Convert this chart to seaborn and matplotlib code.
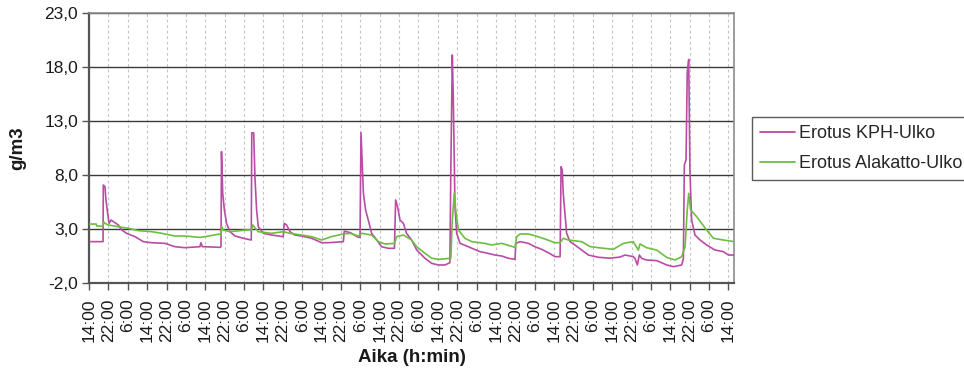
import matplotlib
matplotlib.use("Agg")
import matplotlib.pyplot as plt
import pandas as pd
import seaborn as sns
from matplotlib.lines import Line2D

# Measurement series: hours since the first 14:00 reading, and humidity difference (g/m3)
kph_hours = [
    0.0, 5.8, 5.9, 6.6, 7.0, 7.7, 8.3, 9.1, 10.7, 12.1, 13.5, 15.5, 19.0, 22.4,
    25.9, 31.4, 35.5, 39.6, 45.8, 46.2, 46.8, 47.9, 54.1, 54.5, 54.7, 55.2, 55.9,
    56.8, 58.2, 60.3, 63.7, 67.0, 67.2, 68.0, 68.5, 69.2, 69.9, 72.0, 75.4, 80.2,
    80.6, 81.6, 83.0, 85.0, 87.8, 91.9, 96.1, 98.8, 105.0, 105.4, 108.0, 111.2,
    111.9, 112.3, 112.9, 113.3, 114.2, 115.3, 116.7, 118.8, 120.8, 123.6, 126.1,
    126.6, 127.4, 128.4, 129.8, 131.1, 133.2, 135.3, 138.7, 141.5, 144.2, 147.0,
    149.0, 149.4, 150.0, 150.4, 150.8, 151.1, 151.8, 153.2, 156.6, 161.4, 163.5,
    167.6, 170.4, 173.1, 175.9, 176.2, 178.0, 181.4, 184.1, 186.9, 189.6, 192.4,
    194.5, 194.9, 195.4, 195.8, 196.5, 197.2, 198.6, 200.6, 203.4, 206.2, 210.3,
    215.1, 219.2, 221.3, 224.7, 225.4, 226.4, 227.2, 228.2, 230.2, 234.4, 238.5,
    241.3, 244.7, 245.4, 245.8, 246.5, 247.0, 247.6, 248.1, 248.8, 250.2, 252.3,
    255.0, 258.4, 261.9, 264.0, 266.3,
]
kph_values = [
    1.83, 1.83, 7.07, 6.92, 5.69, 4.45, 3.52, 3.83, 3.58, 3.37, 2.91, 2.60, 2.29,
    1.83, 1.73, 1.67, 1.36, 1.27, 1.36, 1.73, 1.36, 1.36, 1.30, 1.36, 10.16, 6.30,
    4.76, 3.52, 2.75, 2.35, 2.14, 1.98, 11.90, 11.90, 7.85, 4.76, 3.21, 2.60, 2.44,
    2.29, 3.52, 3.37, 2.75, 2.44, 2.35, 2.14, 1.73, 1.73, 1.83, 2.80, 2.65, 2.23,
    2.23, 11.92, 8.46, 6.30, 4.76, 3.83, 2.60, 1.98, 1.36, 1.21, 1.21, 5.69, 5.07,
    3.83, 3.52, 2.60, 1.98, 1.06, 0.29, -0.18, -0.33, -0.33, -0.12, 8.77, 19.11,
    15.25, 9.39, 5.07, 2.60, 1.67, 1.36, 0.90, 0.81, 0.59, 0.50, 0.29, 0.19, 1.67,
    1.83, 1.67, 1.36, 1.12, 0.81, 0.44, 0.44, 8.77, 8.46, 6.30, 4.45, 2.60, 1.83,
    1.52, 1.06, 0.59, 0.38, 0.30, 0.40, 0.59, 0.44, 0.28, -0.33, 0.59, 0.28, 0.13,
    0.07, -0.33, -0.49, -0.33, 0.28, 8.93, 9.40, 17.50, 18.70, 8.46, 3.83, 2.44,
    1.98, 1.52, 1.06, 0.90, 0.59, 0.59,
]

alakatto_hours = [
    0.0, 3.0, 3.2, 5.8, 6.0, 6.6, 8.0, 12.1, 16.3, 20.3, 25.9, 30.0, 35.5, 39.6,
    45.8, 47.9, 54.1, 54.5, 54.8, 55.3, 58.2, 65.0, 67.2, 67.6, 69.9, 75.4, 80.2,
    83.0, 87.8, 91.9, 96.1, 100.0, 105.0, 107.8, 111.2, 112.6, 116.7, 119.5,
    122.2, 126.1, 127.0, 129.8, 133.2, 135.3, 138.7, 141.5, 144.2, 149.4, 150.0,
    150.8, 151.4, 152.5, 155.2, 158.0, 161.4, 163.5, 166.2, 170.4, 175.9, 176.6,
    178.0, 181.4, 184.1, 188.3, 192.4, 194.5, 195.8, 197.9, 203.4, 206.9, 210.3,
    215.1, 216.5, 220.6, 224.7, 226.8, 227.5, 230.2, 234.4, 238.5, 242.0, 244.7,
    246.1, 247.0, 247.6, 248.4, 250.9, 255.0, 257.8, 261.9, 266.3,
]
alakatto_values = [
    3.46, 3.46, 3.27, 3.27, 3.67, 3.52, 3.37, 3.21, 3.06, 2.85, 2.75, 2.60, 2.35,
    2.35, 2.22, 2.29, 2.54, 2.40, 3.21, 2.91, 2.75, 2.91, 2.91, 3.37, 2.75, 2.60,
    2.75, 2.60, 2.44, 2.29, 1.98, 2.29, 2.54, 2.60, 2.35, 2.60, 2.44, 1.83, 1.61,
    1.67, 2.29, 2.44, 1.98, 1.36, 0.75, 0.29, 0.19, 0.29, 3.83, 6.30, 4.76, 2.91,
    2.14, 1.83, 1.73, 1.67, 1.52, 1.67, 1.30, 2.29, 2.54, 2.54, 2.38, 2.07, 1.73,
    1.73, 2.14, 1.98, 1.83, 1.37, 1.27, 1.15, 1.12, 1.67, 1.83, 1.05, 1.61, 1.27,
    1.05, 0.37, 0.13, 0.44, 1.36, 4.76, 6.30, 4.76, 4.14, 2.90, 2.14, 1.98, 1.83,
]

series_names = ["Erotus KPH-Ulko", "Erotus Alakatto-Ulko"]
series_colors = ["#BA4CA5", "#6CBE40"]
y_ticks = [-2.0, 3.0, 8.0, 13.0, 18.0, 23.0]
x_tick_hours = list(range(0, 265, 8))
start_clock = 14
x_title = "Aika (h:min)"
y_title = "g/m3"

sns.set_theme(style="white")
plt.rcParams["font.family"] = ["Liberation Sans", "DejaVu Sans"]

df = pd.concat(
    [
        pd.DataFrame({"hours": kph_hours, "value": kph_values, "series": series_names[0]}),
        pd.DataFrame({"hours": alakatto_hours, "value": alakatto_values, "series": series_names[1]}),
    ],
    ignore_index=True,
)

fig = plt.figure(figsize=(9.64, 3.79), dpi=100)
ax = fig.add_axes([89 / 964, 1 - 283 / 379, (734 - 89) / 964, (283 - 13) / 379])

sns.lineplot(
    data=df, x="hours", y="value", hue="series", hue_order=series_names,
    palette=series_colors, estimator=None, sort=False, linewidth=1.2,
    ax=ax, legend=False, zorder=3,
)

ax.set_xlim(0, 266.3)
ax.set_ylim(-2, 23)
ax.set_yticks(y_ticks)
ax.set_yticklabels([f"{v:.1f}".replace(".", ",") for v in y_ticks])
ax.set_xticks(x_tick_hours)
ax.set_xticklabels([f"{(start_clock + h) % 24}:00" for h in x_tick_hours], rotation=90)
ax.set_xlabel("")
ax.set_ylabel("")

ax.grid(axis="y", color="#3a3a3a", linewidth=1.0, linestyle="-", zorder=1)
ax.grid(axis="x", color="#c4c4c4", linewidth=0.8, linestyle=(0, (2.5, 2.5)), zorder=1)
ax.set_axisbelow(True)

for side in ("left", "bottom"):
    ax.spines[side].set_color("#555555")
    ax.spines[side].set_linewidth(1.6)
for side in ("top", "right"):
    ax.spines[side].set_color("#8c8c8c")
    ax.spines[side].set_linewidth(1.2)

ax.tick_params(axis="both", which="both", left=True, bottom=True, direction="out",
               length=5, width=1.0, color="#555555", labelsize=12.5, labelcolor="#1a1a1a")
ax.tick_params(axis="y", pad=3)
ax.tick_params(axis="x", pad=6)

fig.text((89 + 734) / 2 / 964, 1 - 357 / 379, x_title, ha="center", va="center",
         fontsize=13.5, fontweight="bold", color="#1a1a1a")
fig.text(18 / 964, 1 - 148 / 379, y_title, ha="center", va="center", rotation=90,
         fontsize=13.5, fontweight="bold", color="#1a1a1a")

handles = [Line2D([], [], color=c, linewidth=1.3) for c in series_colors]
leg = fig.legend(
    handles, series_names, loc="upper left", bbox_to_anchor=(752 / 964, 1 - 117 / 379),
    bbox_transform=fig.transFigure, borderaxespad=0, fontsize=13, frameon=True,
    fancybox=False, shadow=False, handlelength=1.95, handletextpad=0.2,
    labelspacing=0.72, borderpad=0.45,
)
leg.get_frame().set_edgecolor("#333333")
leg.get_frame().set_linewidth(1.0)
leg.get_frame().set_facecolor("white")

fig.savefig("out.png", dpi=100)
